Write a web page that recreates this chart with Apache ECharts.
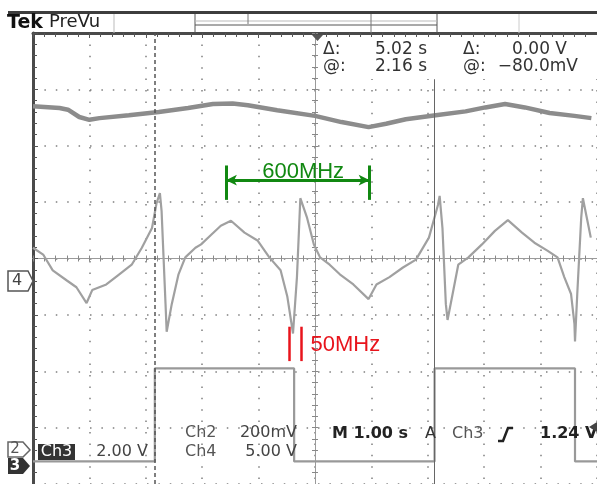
<!DOCTYPE html>
<html>
<head>
<meta charset="utf-8">
<script src="https://cdn.jsdelivr.net/npm/echarts@6/dist/echarts.min.js"></script>
<style>
html, body { margin: 0; padding: 0; background: #fff; }
#chart { width: 597px; height: 484px; }
</style>
</head>
<body>
<div id="chart"></div>
<script>
// 示波器截图复刻：横轴为时间（秒，1 s/div），纵轴为格数（div，中心为 0）
const ch2Time = [0, 0.47, 0.62, 0.82, 1.00, 1.18, 1.70, 2.23, 2.75, 3.19, 3.54, 3.81, 4.33, 5.00, 5.47, 5.95, 6.26, 6.61, 7.14, 7.67, 8.02, 8.37, 8.72, 9.16, 9.60, 9.90]
const ch2Div = [2.70, 2.67, 2.64, 2.51, 2.46, 2.49, 2.54, 2.60, 2.67, 2.74, 2.75, 2.72, 2.63, 2.53, 2.42, 2.33, 2.39, 2.47, 2.54, 2.61, 2.68, 2.74, 2.68, 2.58, 2.53, 2.49]

const ch4Time = [0, 0.18, 0.35, 0.60, 0.77, 0.95, 1.05, 1.30, 1.53, 1.75, 1.93, 2.11, 2.19, 2.25, 2.28, 2.35, 2.37, 2.46, 2.58, 2.70,
  2.88, 2.98, 3.16, 3.33, 3.51, 3.75, 3.98, 4.19, 4.39, 4.51, 4.61, 4.68, 4.74, 4.86, 4.98, 5.09, 5.26, 5.44, 5.68, 5.95,
  6.09, 6.32, 6.56, 6.79, 7.02, 7.18, 7.21, 7.26, 7.32, 7.35, 7.44, 7.54, 7.72, 7.96, 8.19, 8.42, 8.67, 8.89, 9.12, 9.30,
  9.42, 9.54, 9.60, 9.61, 9.65, 9.72, 9.75, 9.82, 9.89]
const ch4Div = [0.19, 0.07, -0.21, -0.39, -0.51, -0.79, -0.56, -0.46, -0.28, -0.11, 0.19, 0.54, 0.98, 1.16, 0.84, -0.81, -1.30, -0.81, -0.28, 0.02,
  0.19, 0.25, 0.42, 0.58, 0.67, 0.46, 0.32, 0.02, -0.21, -0.68, -1.33, -0.33, 1.07, 0.72, 0.25, 0.02, -0.11, -0.28, -0.46, -0.72,
  -0.46, -0.33, -0.16, -0.02, 0.37, 0.95, 1.11, 0.54, -0.81, -1.09, -0.63, -0.11, 0.02, 0.25, 0.49, 0.68, 0.46, 0.28, 0.14, 0.02,
  -0.33, -0.63, -1.16, -1.47, -0.63, 0.72, 1.07, 0.72, 0.37]

const ch3Edges = [2.16, 4.63, 7.12, 9.61]                  // 方波跳变时刻（秒）
const ch3Levels = [-3.6, -1.95]                            // 低电平 / 高电平（div）

const cursorTimes = [2.15, 7.12]                           // 两条时间光标
const cursorTop = 3.18                                     // 实线光标上端（读数框下沿）
const spanTimes = [3.42, 5.97]                             // 绿色 600MHz 标注两端
const spanDiv = [1.04, 1.39, 1.65]                         // 竖线下端 / 箭头 / 竖线上端
const pulseTimes = [4.54, 4.76]                            // 红色 50MHz 标注两条竖线
const pulseDiv = [-1.82, -1.21]
const noteLabels = ['600MHz', '50MHz']
const noteAt = [[4.79, 1.53], [4.92, -1.53]]

const zip = (ts, vs) => ts.map((t, i) => [t, vs[i]])

// 方波：每个跳变处放两个点，电平交替
const ch3Data = [[0, ch3Levels[0]]]
let level = 0
ch3Edges.forEach(t => {
  ch3Data.push([t, ch3Levels[level]])
  level = 1 - level
  ch3Data.push([t, ch3Levels[level]])
})
ch3Data.push([10, ch3Levels[level]])

const dotted = { color: '#7f7f7f', width: 1.5, type: [1.5, 9.9] }   // Tek 点状刻度网格（每格 5 点）
const TEK = 'DejaVu Sans'

function edgeAxis(extra) {                                 // 外框（左/上）带内侧小刻度
  return Object.assign({
    type: 'value', interval: 1,
    axisLine: { show: true, onZero: false, lineStyle: { color: '#4a4a4a', width: 3 } },
    axisTick: { show: true, inside: true, length: 5, lineStyle: { color: '#555' } },
    minorTick: { show: true, splitNumber: 5, length: 4, lineStyle: { color: '#555' } },
    axisLabel: { show: false },
    splitLine: { show: true, lineStyle: dotted }
  }, extra)
}

function centerAxis(inside, extra) {                       // 中心十字线，刻度两侧各画一次
  return Object.assign({
    type: 'value', interval: 1,
    axisLine: { show: true, onZero: true, lineStyle: { color: '#9a9a9a', width: 1 } },
    axisTick: { show: true, inside: inside, length: 3, lineStyle: { color: '#888' } },
    minorTick: { show: true, splitNumber: 5, length: 3, lineStyle: { color: '#888' } },
    axisLabel: { show: false },
    splitLine: { show: false }
  }, extra)
}

function txt(x, y, s, opt) {
  opt = opt || {}
  return {
    type: 'text', x: x, y: y, z: 20,
    style: {
      text: s, fill: opt.fill || '#333',
      font: (opt.weight || 'normal') + ' ' + (opt.size || 16) + 'px ' + TEK,
      textAlign: opt.align || 'left', align: opt.align || 'left',
      textVerticalAlign: 'middle', verticalAlign: 'middle'
    }
  }
}
function seg(x1, y1, x2, y2, color, w) {
  return { type: 'line', z: 20, shape: { x1, y1, x2, y2 }, style: { stroke: color, lineWidth: w || 1 } }
}
function poly(points, fill, stroke) {
  return { type: 'polygon', z: 20, shape: { points }, style: { fill: fill, stroke: stroke || null, lineWidth: 1.5 } }
}

const chart = echarts.init(document.getElementById('chart'))
chart.setOption({
  animation: false,
  backgroundColor: '#fff',
  grid: { left: 33, top: 33, width: 570, height: 456, containLabel: false },
  xAxis: [
    edgeAxis({ min: 0, max: 10, position: 'top' }),
    centerAxis(true, { min: 0, max: 10, position: 'bottom' }),
    centerAxis(false, { min: 0, max: 10, position: 'bottom' }),
    { type: 'value', min: -5, max: 5, show: false }          // 仅供纵向中心线定位
  ],
  yAxis: [
    edgeAxis({ min: -4, max: 4, position: 'left' }),
    centerAxis(true, { min: -4, max: 4, position: 'left', axisLine: { show: true, onZero: true, onZeroAxisIndex: 3, lineStyle: { color: '#9a9a9a', width: 1 } } }),
    centerAxis(false, { min: -4, max: 4, position: 'left', axisLine: { show: true, onZero: true, onZeroAxisIndex: 3, lineStyle: { color: '#9a9a9a', width: 1 } } })
  ],
  series: [
    { name: 'Ch2', type: 'line', data: zip(ch2Time, ch2Div), symbol: 'none', z: 3,
      lineStyle: { color: '#8c8c8c', width: 4.5 } },
    { name: 'Ch4', type: 'line', data: zip(ch4Time, ch4Div), symbol: 'none', z: 3,
      lineStyle: { color: '#a0a0a0', width: 2.2 } },
    { name: 'Ch3', type: 'line', data: ch3Data, symbol: 'none', z: 3,
      lineStyle: { color: '#999', width: 2.2 } },
    { name: 'notes', type: 'line', data: [], z: 10,
      markLine: {
        silent: true, symbol: 'none', label: { show: false },
        data: [
          { xAxis: cursorTimes[0], lineStyle: { color: '#555', width: 1.5, type: [4, 3] } },
          [{ coord: [cursorTimes[1], cursorTop], lineStyle: { color: '#666', width: 1, type: 'solid' } }, { coord: [cursorTimes[1], -4] }],
          [{ coord: [spanTimes[0], spanDiv[1]], symbol: 'arrow', symbolSize: [8, 11], lineStyle: { color: '#118811', width: 3, type: 'solid' } },
           { coord: [spanTimes[1], spanDiv[1]], symbol: 'arrow', symbolSize: [8, 11] }],
          [{ coord: [spanTimes[0], spanDiv[0]], lineStyle: { color: '#118811', width: 3, type: 'solid' } }, { coord: [spanTimes[0], spanDiv[2]] }],
          [{ coord: [spanTimes[1], spanDiv[0]], lineStyle: { color: '#118811', width: 3, type: 'solid' } }, { coord: [spanTimes[1], spanDiv[2]] }],
          [{ coord: [pulseTimes[0], pulseDiv[0]], lineStyle: { color: '#e8141c', width: 2.5, type: 'solid' } }, { coord: [pulseTimes[0], pulseDiv[1]] }],
          [{ coord: [pulseTimes[1], pulseDiv[0]], lineStyle: { color: '#e8141c', width: 2.5, type: 'solid' } }, { coord: [pulseTimes[1], pulseDiv[1]] }]
        ]
      },
      markPoint: {
        silent: true, symbol: 'circle', symbolSize: 0,
        data: [
          { coord: noteAt[0], label: { show: true, formatter: noteLabels[0], position: 'inside', color: '#118811', fontSize: 22, fontFamily: 'Liberation Sans' } },
          { coord: noteAt[1], label: { show: true, formatter: noteLabels[1], position: 'right', distance: 0, color: '#e8141c', fontSize: 22, fontFamily: 'Liberation Sans' } }
        ]
      }
    }
  ],
  graphic: [
    // 顶部状态栏
    { type: 'rect', z: 20, shape: { x: 8, y: 11, width: 589, height: 3 }, style: { fill: '#3d3d3d' } },
    txt(7, 23, 'Tek', { weight: 'bold', size: 19, fill: '#111' }),
    txt(49, 22, 'PreVu', { size: 18, fill: '#222' }),
    seg(114, 14, 114, 33, '#bbb'),
    seg(195, 14, 195, 33, '#555'), seg(437, 14, 437, 33, '#555'),
    seg(195, 25, 437, 25, '#555'), seg(195, 21, 437, 21, '#bbb'),
    seg(248, 14, 248, 24, '#777'), seg(371, 14, 371, 33, '#777'),
    seg(519, 14, 519, 33, '#ccc'),
    poly([[312, 35], [323, 35], [317.5, 41]], '#555'),
    // 光标读数区
    { type: 'rect', z: 5, shape: { x: 322, y: 37, width: 275, height: 42 }, style: { fill: '#fff' } },
    txt(323, 50, 'Δ:', { size: 17 }), txt(427, 50, '5.02 s', { size: 17, align: 'right' }),
    txt(463, 50, 'Δ:', { size: 17 }), txt(567, 50, '0.00 V', { size: 17, align: 'right' }),
    txt(323, 67, '@:', { size: 17 }), txt(427, 67, '2.16 s', { size: 17, align: 'right' }),
    txt(463, 67, '@:', { size: 17 }), txt(578, 67, '−80.0mV', { size: 17, align: 'right' }),
    // 底部通道信息
    { type: 'rect', z: 20, shape: { x: 38, y: 444, width: 37, height: 16 }, style: { fill: '#333' } },
    txt(56.5, 452, 'Ch3', { fill: '#fff', align: 'center' }),
    txt(148, 452, '2.00 V', { fill: '#444', align: 'right' }),
    txt(185, 433, 'Ch2', { fill: '#555' }), txt(297, 433, '200mV', { fill: '#444', align: 'right' }),
    txt(185, 452, 'Ch4', { fill: '#555' }), txt(297, 452, '5.00 V', { fill: '#444', align: 'right' }),
    txt(332, 434, 'M 1.00 s', { weight: 'bold', fill: '#222' }),
    txt(425, 434, 'A', { fill: '#333' }),
    txt(452, 434, 'Ch3', { fill: '#555' }),
    { type: 'polyline', z: 20, shape: { points: [[498, 441], [503, 441], [508, 428], [513, 428]] }, style: { stroke: '#222', lineWidth: 2.5, fill: null } },
    txt(540, 434, '1.24 V', { weight: 'bold', fill: '#222' }),
    poly([[589, 427], [597, 422], [597, 432]], '#444'),
    // 左侧通道标记
    poly([[8, 271], [28, 271], [33, 281], [28, 291], [8, 291]], '#fff', '#555'),
    txt(17, 281, '4', { fill: '#444', align: 'center' }),
    poly([[8, 442], [23, 442], [30, 450], [23, 457], [8, 457]], '#fff', '#666'),
    txt(15, 449.5, '2', { size: 15, fill: '#555', align: 'center' }),
    poly([[8, 458], [23, 458], [30, 466], [23, 474], [8, 474]], '#333'),
    txt(15, 466, '3', { size: 15, fill: '#fff', weight: 'bold', align: 'center' })
  ]
})
</script>
</body>
</html>
